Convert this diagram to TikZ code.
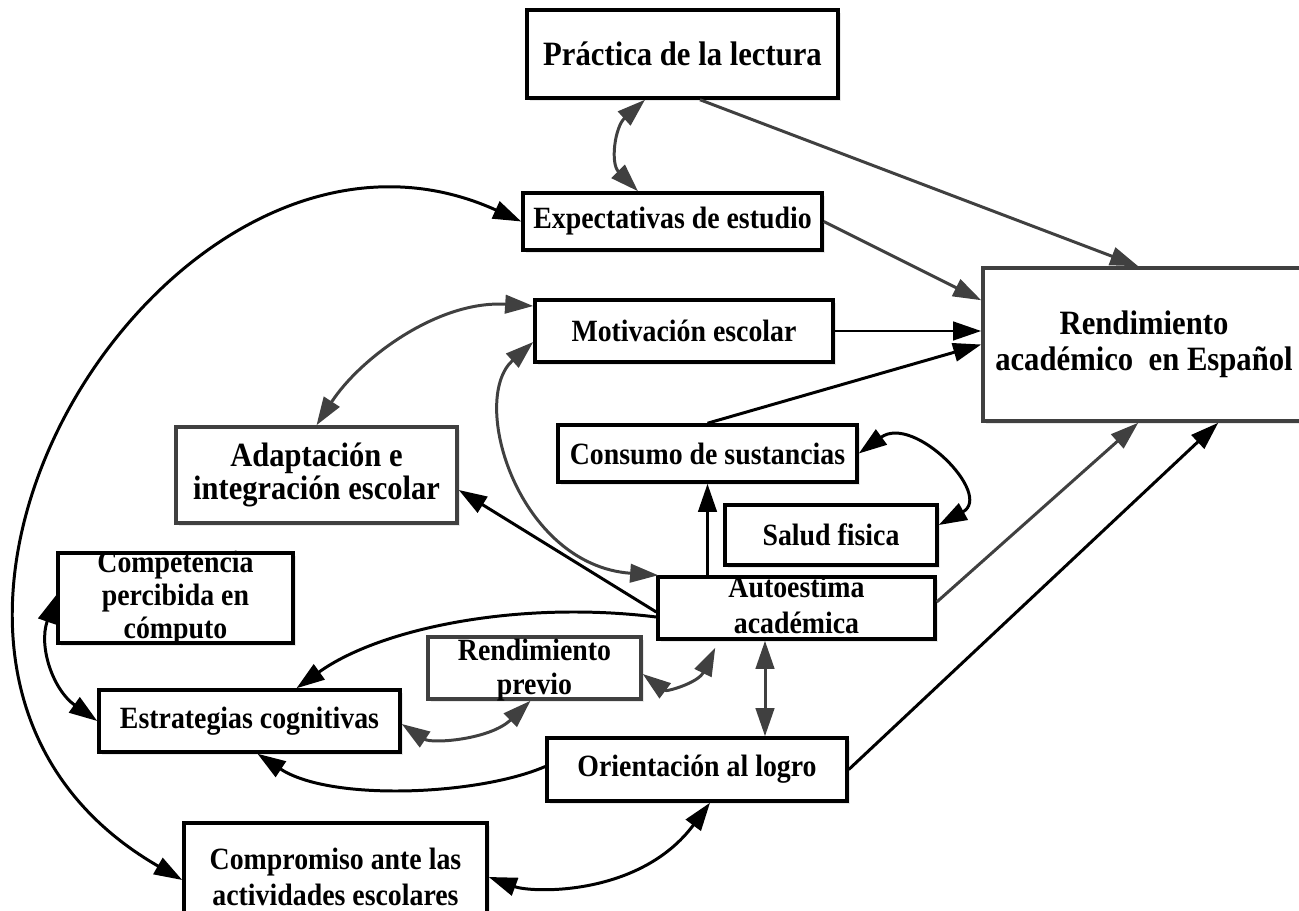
\documentclass[tikz,border=0pt]{standalone}
\usepackage{fontspec}
\setmainfont{Liberation Serif}[FakeStretch=0.9]
\usetikzlibrary{arrows.meta,calc,shadows}

\begin{document}
\begin{tikzpicture}[x=0.2mm,y=-0.2mm,
    tri/.tip={Triangle[length=16pt,width=10.5pt]},
    box/.style={draw=black,line width=2pt,fill=white,inner sep=0pt,align=center,
      font=\fontsize{17.6}{20}\selectfont\bfseries,
      drop shadow={shadow xshift=1.5pt,shadow yshift=-1.5pt,fill=black!18}},
    gbox/.style={box,draw=black!75},
    big/.style={font=\fontsize{19.4}{20.5}\selectfont\bfseries},
    txt/.style={align=center,inner sep=0pt,font=\fontsize{17.6}{20.4}\selectfont\bfseries},
    lnk/.style={draw=black,line width=1.7pt},
    glnk/.style={draw=black!75,line width=1.7pt}]
  \useasboundingbox (0,0) rectangle (1299,911);

  \node[box,big,minimum width=62.2mm,minimum height=17.6mm] (prac) at (682.5,54) {Práctica de la lectura};
  \node[box,minimum width=59.8mm,minimum height=11.4mm] (expec) at (672.5,221.5) {Expectativas de estudio};
  \node[gbox,big,minimum width=64.4mm,minimum height=30.6mm] (rend) at (1144,344.5) {Rendimiento\\académico \ en Español};
  \node[box,minimum width=59.6mm,minimum height=12.4mm] (motiv) at (684,331) {Motivación escolar};
  \node[box,minimum width=59.8mm,minimum height=11.4mm] (consu) at (707.5,453.5) {Consumo de sustancias};
  \node[gbox,font=\fontsize{19.3}{17.5}\selectfont\bfseries,minimum width=56.2mm,minimum height=19.2mm] (adapt) at (316.5,475) {Adaptación e\\integración escolar};
  \node[box,minimum width=42.4mm,minimum height=12mm] (salud) at (831,535) {Salud fisica};
  \node[box,minimum width=55.4mm,minimum height=12.4mm,
    label={[txt,name=autoe-t,yshift=0.6mm]center:Autoestima\\académica}] (autoe) at (796.5,608) {};
  \node[box,minimum width=47mm,minimum height=18mm,
    label={[txt,name=comp-t,font=\fontsize{17.6}{19}\selectfont\bfseries]center:Competencia\\percibida en\\cómputo}] (comp) at (175.5,598) {};
  \node[gbox,minimum width=42.6mm,minimum height=12.4mm,
    label={[txt,name=rprev-t,yshift=-0.4mm,font=\fontsize{17.6}{19}\selectfont\bfseries]center:Rendimiento\\previo}] (rprev) at (534.5,668) {};
  \node[box,minimum width=60.2mm,minimum height=12.4mm] (estra) at (249.5,721) {Estrategias cognitivas};
  \node[box,minimum width=60mm,minimum height=12.6mm] (orien) at (697,769.5) {Orientación al logro};
  \node[box,minimum width=60.6mm,minimum height=21.6mm,font=\fontsize{17.6}{20.5}\selectfont\bfseries] (compr) at (335.5,877) {Compromiso ante las\\actividades escolares};

  \draw[glnk,-tri] ($(prac.south)+(17.5,0)$) -- ($(rend.north west)+(157,0)$);
  \draw[glnk,tri-tri] ($(prac.south)+(-37.5,0)$) .. controls +(-30,27) and +(-28,-28) .. ($(expec.north)+(-34.5,0)$);
  \draw[lnk,tri-tri] (expec.west) .. controls +(-353,-160) and +(-380,-219) .. ($(compr.west)+(0,3)$);
  \draw[glnk,-tri] (expec.east) -- ($(rend.north west)+(0,34)$);
  \draw[lnk,-tri] (motiv.east) -- (motiv.east -| rend.west);
  \draw[lnk,-tri] (consu.north) -- (rend.west);
  \draw[glnk,tri-tri] (adapt.north) .. controls +(43.5,-67) and +(-95,-6) .. ($(motiv.west)+(0,-25)$);
  \draw[glnk,tri-tri] ($(autoe.north west)+(2,0)$) .. controls +(-140,-10) and +(-65,58) .. ($(motiv.west)+(0,11)$);
  \draw[lnk,-tri] ($(autoe.west)+(0,4)$) -- ($(adapt.east)+(0,15)$);
  \draw[lnk,-tri] ($(autoe.west)+(0,9)$) .. controls +(-138,-17) and +(83.5,-60) .. ($(estra.north)+(47,0)$);
  \draw[lnk,-tri] (autoe.north -| consu.south) -- (consu.south);
  \draw[lnk,tri-tri] (consu.east) .. controls +(55,-40) and +(55,-30) .. ($(salud.east)+(0,-10)$);
  \draw[glnk,-tri] ($(autoe.east)+(0,-6)$) -- ($(rend.south west)+(157,0)$);
  \draw[lnk,-tri] (orien.east) -- ($(rend.south west)+(237,0)$);
  \draw[glnk,tri-tri] ($(rprev.east)+(0,6)$) .. controls +(24,18) and +(-17,35) .. ($(autoe.south west)+(59,7)$);
  \draw[glnk,tri-tri] ($(estra.east)+(0,3)$) .. controls +(30,20) and +(-40.5,39) .. ($(rprev.south)+(-4,0)$);
  \draw[glnk,tri-tri] ($(autoe.south)+(-31.5,0)$) -- ($(orien.north)+(68,0)$);
  \draw[lnk,-tri] ($(orien.west)+(0,-3)$) .. controls +(-67,29) and +(72.5,48) .. ($(estra.south)+(8,0)$);
  \draw[lnk,tri-tri] (compr.east) .. controls +(43,16) and +(-70,94) .. ($(orien.south)+(13,0)$);
  \draw[lnk,tri-tri] ($(comp.west)+(0,-3)$) .. controls +(-18,52) and +(-44,-31) .. (estra.west);
\end{tikzpicture}
\end{document}
